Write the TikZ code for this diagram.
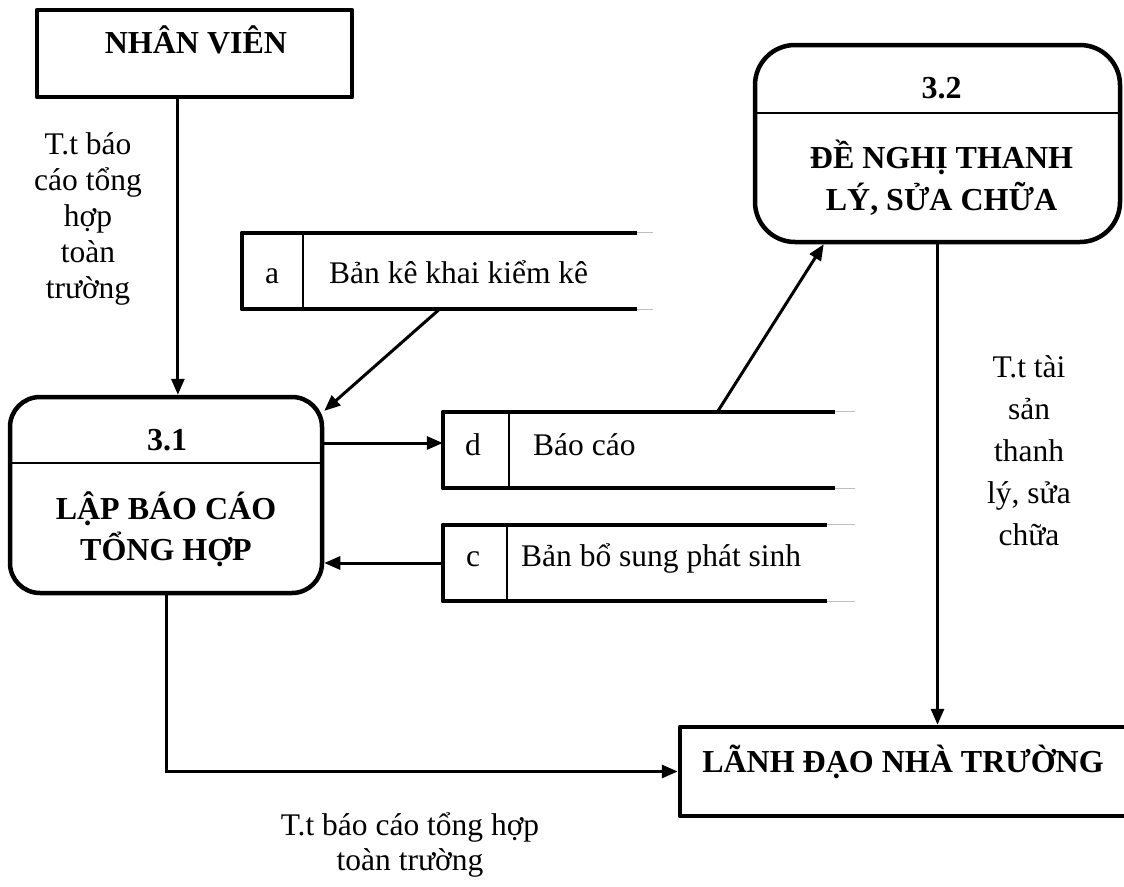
\documentclass[tikz,border=0pt]{standalone}
\usepackage{fontspec}
\setmainfont{Liberation Serif}
\usetikzlibrary{arrows.meta,calc}
% centred multi-line text whose baseline is that of the first line
\newcommand\cstack[1]{\vtop{\lineskiplimit=-\maxdimen\halign{\hfil##\hfil\cr#1\crcr}}}

\begin{document}
\begin{tikzpicture}[x=1pt,y=-1pt,
  ext/.style={draw, line width=4.5pt, inner sep=0pt, line join=round},
  proc/.style={draw, line width=4.5pt, inner sep=0pt},
  store/.style={inner sep=0pt, minimum height=76pt},
  flow/.style={line width=3pt, -{Triangle[length=16pt,width=13pt]}},
  headtxt/.style={font=\fontsize{32}{41}\selectfont\bfseries, inner sep=0pt, anchor=base},
  txt/.style={font=\fontsize{31.5}{36}\selectfont, inner sep=0pt, anchor=base},
  thickline/.style={line width=4.5pt, line join=round},
  thinline/.style={line width=1.5pt},
  stubline/.style={line width=1pt, black!25},
]
\useasboundingbox (0,0) rectangle (1124,886);

% external entities
\node[ext, minimum width=315pt, minimum height=87pt] (nv) at (194.5,53.5) {};
\node[headtxt] (nvt) at (196,53) {NHÂN VIÊN};

\node[ext, minimum width=460pt, minimum height=89pt] (ld) at (910,771.5) {};
\node[headtxt] (ldt) at (903,772) {LÃNH ĐẠO NHÀ TRƯỜNG};

% process 3.1
\node[proc, rounded corners=30pt, minimum width=312pt, minimum height=196pt] (p31) at (166,495) {};
\draw[line width=2pt] (p31.west |- 0,463) -- (p31.east |- 0,463);
\node[headtxt] (n31) at (167,450) {3.1};
\node[headtxt] (t31) at (166,519) {\cstack{LẬP BÁO CÁO\cr TỔNG HỢP}};

% process 3.2
\node[proc, rounded corners=40pt, minimum width=365pt, minimum height=197pt] (p32) at (937.5,143.5) {};
\draw[line width=2pt] (p32.west |- 0,113) -- (p32.east |- 0,113);
\node[headtxt] (n32) at (941.5,98) {3.2};
\node[headtxt, font=\fontsize{32}{42}\selectfont\bfseries] (t32) at (941.5,168) {\cstack{ĐỀ NGHỊ THANH\cr LÝ, SỬA CHỮA}};

% data store a
\node[store, minimum width=395pt] (a) at (439.5,271) {};
\draw[thickline] (a.north east) -- (a.north west) -- (a.south west) -- (a.south east);
\draw[stubline] (a.north east) -- ++(16,0) (a.south east) -- ++(16,0);
\draw[thinline] ($(a.north west)+(61,0)$) -- ($(a.south west)+(61,0)$);
\node[txt] (ak) at (272,283) {a};
\node[txt, anchor=base west] (al) at (329,283) {Bản kê khai kiểm kê};

% data store d
\node[store, minimum width=392pt] (d) at (639,450) {};
\draw[thickline] (d.north east) -- (d.north west) -- (d.south west) -- (d.south east);
\draw[stubline] (d.north east) -- ++(20,0) (d.south east) -- ++(20,0);
\draw[thinline] ($(d.north west)+(66,0)$) -- ($(d.south west)+(66,0)$);
\node[txt] (dk) at (473,455) {d};
\node[txt, anchor=base west] (dl) at (533,455) {Báo cáo};

% data store c
\node[store, minimum width=384pt] (c) at (635,563) {};
\draw[thickline] (c.north east) -- (c.north west) -- (c.south west) -- (c.south east);
\draw[stubline] (c.north east) -- ++(28,0) (c.south east) -- ++(28,0);
\draw[thinline] ($(c.north west)+(64,0)$) -- ($(c.south west)+(64,0)$);
\node[txt] (ck) at (473,566) {c};
\node[txt, anchor=base west] (cl) at (521,566) {Bản bổ sung phát sinh};

% data flows
\coordinate (nvout) at ($(nv.south west)!0.448!(nv.south east)$);
\draw[flow] (nvout) -- (nvout |- p31.north);
\draw[flow] (a.south) -- (p31.28.6);
\draw[flow] (p31.east |- 0,443) -- (d.west |- 0,443);
\draw[flow] (c.west) -- (c.west -| p31.east);
\coordinate (dout) at ($(d.north west)!0.7!(d.north east)$);
\draw[flow] (dout) -- ($(p32.south west)+(71,0)$);
\draw[flow] (p32.south) -- (p32.south |- ld.north);
\draw[flow] (p31.south) |- (ld.west);

% flow labels
\node[txt] (l1) at (88,154) {\cstack{T.t báo\cr cáo tổng\cr hợp\cr toàn\cr trường}};
\node[txt, font=\fontsize{31.5}{42}\selectfont] (l2) at (1029,377) {\cstack{T.t tài\cr sản\cr thanh\cr lý, sửa\cr chữa}};
\node[txt, font=\fontsize{31.5}{35}\selectfont] (l3) at (410,835) {\cstack{T.t báo cáo tổng hợp\cr toàn trường}};
\end{tikzpicture}
\end{document}
